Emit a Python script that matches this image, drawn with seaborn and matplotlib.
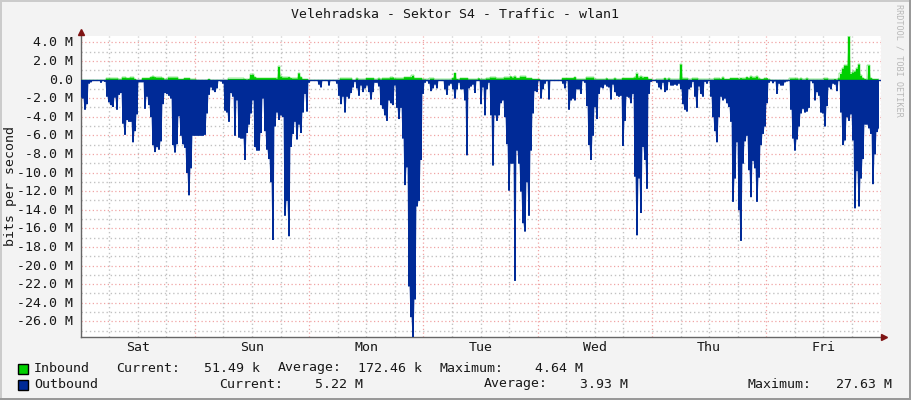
import numpy as np
import pandas as pd
import matplotlib
matplotlib.use("Agg")
import matplotlib.pyplot as plt
from matplotlib.patches import Rectangle
from matplotlib.ticker import FixedLocator
from matplotlib.transforms import ScaledTranslation
import seaborn as sns

TITLE = "Velehradska - Sektor S4 - Traffic - wlan1"
YLABEL = "bits per second"
WATERMARK = "RRDTOOL / TOBI OETIKER"
DAYS = ["Sat", "Sun", "Mon", "Tue", "Wed", "Thu", "Fri"]
Y_TICKS = list(range(-26, 5, 2))

# Outbound traffic (M bits/s, drawn downward), one reading per 25.2 minutes
out_sat = [1.9,2.0,3.2,2.6,0.4,0.25,0.1,0,0,0.05,0.3,0.1,0.2,1.8,2.4,2.7,2.9,1.9,3.2,1.6,
           1.4,4.7,5.9,4.3,4.5,4.5,6.7,5.5,3.7,0.25,0.25,0.25,3.1,1.8,2.7,4.0,7.0,7.75,7.2,7.5,
           6.6,2.6,1.4,1.5,1.7,2.0,7.0,7.8,6.9,3.9,6.0,6.9,7.3,10.0,12.4,9.5,6.0,6.0]
out_sun = [6.0,6.0,6.0,6.0,5.9,3.6,1.6,0.8,1.1,1.3,0.9,0.1,0.15,0.4,3.3,3.5,4.5,1.4,1.8,6.0,
           2.2,6.2,6.3,6.3,8.6,5.7,4.8,3.6,2.2,7.2,7.6,7.6,5.7,2.0,5.5,7.5,8.5,11.0,17.2,5.0,
           3.5,4.3,3.8,4.0,14.6,13.0,16.8,7.2,5.8,4.5,6.4,4.8,5.7,3.5,1.5,3.4,0.3]
out_mon = [0.1,0.1,0.1,0.1,0.5,0.8,0.05,0.05,0.05,0.6,0.1,0.05,0.1,0.4,1.7,2.6,1.8,3.5,1.8,2.0,
           1.4,0.8,0.2,0.9,1.7,0.6,1.3,0.9,0.6,1.3,2.1,1.3,0.3,0.3,0.7,2.7,3.1,3.8,4.4,2.2,
           2.5,2.7,0.6,3.0,4.2,3.0,6.3,11.3,9.4,22.2,25.5,27.63,23.6,13.6,13.0,8.6,1.5,0.3]
out_tue = [0.1,0.4,1.2,0.9,0.5,0.9,0.05,0.05,0.1,1.0,1.6,0.6,0.4,1.0,2.0,1.0,0.3,1.0,1.0,2.2,
           8.1,0.9,0.7,0.5,1.4,0.1,0.05,2.6,0.8,3.8,1.0,0.3,3.8,9.2,3.8,4.4,3.8,2.5,2.2,4.0,
           6.9,11.9,9.0,9.0,21.6,7.6,9.0,12.0,15.4,16.3,11.0,14.6,7.6,3.6,1.2,1.3,0.1]
out_wed = [2.0,1.0,0.4,0.1,2.1,0.05,0.02,0,0,0,0.05,0.4,0.9,0.1,3.2,2.2,2.0,2.2,1.0,1.0,
           1.5,0.1,0.3,2.8,7.0,8.6,6.0,2.9,4.2,1.5,0.8,0.9,0.5,0.7,0.8,2.1,0.5,1.3,1.7,1.8,
           1.7,7.1,4.4,1.8,1.9,2.5,1.5,10.4,16.7,10.6,14.3,7.2,8.6,11.7,1.5,0.2,0.05,0.05]
out_thu = [0.3,0.8,1.0,0.3,1.3,1.1,0.2,0.6,0.6,0.5,0.6,0.4,1.0,2.6,3.2,3.4,1.0,0.8,0.2,1.8,
           3.0,0.7,1.5,1.8,0.2,0.4,0.1,1.8,4.0,5.5,6.7,4.0,1.8,2.2,2.0,2.5,2.9,4.5,13.1,10.6,
           6.7,14.0,17.3,9.0,6.6,6.0,9.7,12.6,8.7,9.5,13.1,10.5,7.0,5.8,5.0,2.5,0.3]
out_fri = [0.1,0.35,0.15,1.5,0.4,0.6,0.6,0.25,0.15,0.1,3.2,6.3,7.6,6.4,5.0,3.6,3.1,3.5,3.4,3.0,
           0.1,0.35,2.2,1.3,1.7,3.5,3.6,5.0,2.8,0.8,1.0,0.4,0.5,1.2,0.1,3.5,7.0,6.5,4.0,4.4,
           3.7,6.5,13.8,9.8,13.6,10.6,8.5,4.8,4.8,5.2,5.8,11.2,8.0,5.6,5.22]

# Inbound traffic (M bits/s), same cadence
in_sat = [0,0,0,0,0,0,0,0,0,0,0,0,0,.15,.15,.15,.15,.15,.15,.05,.05,.25,.25,.2,.2,.25,.25,.1,0,0,0,
          .2,.2,.2,.2,.3,.35,.3,.25,.25,.25,.2,.05,.05,.25,.25,.25,.25,.25,.1,.1,.1,.2,.2,.2,.05,.05,.05]
in_sun = [0,0,0,0,0,0,.1,0,0,0,0,0,0,0,0,0,.12,.12,.12,.12,.12,.12,.12,.12,.1,.05,.1,.55,.55,.3,
          .2,.2,.2,.2,.2,.2,.2,.2,.2,.2,.15,1.4,.35,.25,.25,.25,.3,.2,.15,.15,.15,.7,.3,.1,.1,.1,0]
in_mon = [0,0,0,0,0,0,0,0,0,0,0,0,0,0,0,.15,.15,.15,.15,.15,.15,0,0,.15,.03,.03,.03,.03,.2,.2,.2,.2,
          .03,.03,.15,.05,.17,.17,.17,.17,.25,.25,.15,.15,.15,.15,.15,.3,.3,.3,.3,.45,.2,.2,.2,.2,.05,.05]
in_tue = [.02,.02,.15,.15,.02,.02,.02,.02,.02,.02,.02,.02,.02,.2,.75,.1,.05,.2,.2,.2,.2,.05,.05,.05,.05,.05,
          .15,.05,.05,.05,.15,.15,.25,.25,.25,.15,.15,.15,.15,.25,.25,.25,.35,.25,.35,.2,.2,.35,.35,.35,
          .2,.2,.2,.1,.1,.1,.1]
in_wed = [0,0,0,0,0,0,0,0,0,0,0,.2,.2,.2,.2,.2,.2,.3,.05,.05,.05,.05,.05,.25,.25,.25,.25,.05,.05,.05,.05,.05,.05,
          .15,.05,.05,.05,.17,.05,.05,.05,.2,.2,.2,.2,.2,.2,.25,.65,.25,.35,.25,.32,.32,.1,.1,0,0]
in_thu = [.02,.02,.02,.02,.2,.03,.15,.02,.02,.02,.02,.02,1.65,.15,.15,.15,.02,.02,.15,.15,.15,
          .02,.02,.02,.02,.02,.02,.02,.02,.15,.15,.15,.1,.25,.1,.1,.1,.2,.2,.2,.2,.1,.2,.15,.15,.3,.2,.35,
          .25,.25,.35,.15,.1,.1,.18,.18,.05]
in_fri = [0,0,0,0,0,0,0,0,0,0,.15,.15,.15,.15,.05,.15,.03,.03,.15,.02,.02,.02,.02,.02,.02,.02,.02,.15,.15,
          .03,.03,.03,.1,.03,.18,.65,1.2,1.55,1.55,4.64,.65,.8,.9,1.2,1.65,.45,.2,.1,.05,1.55,.2,.1,.1,.1,.0515]

outbound = np.array(out_sat + out_sun + out_mon + out_tue + out_wed + out_thu + out_fri, dtype=float)
inbound = np.array(in_sat + in_sun + in_mon + in_tue + in_wed + in_thu + in_fri, dtype=float)
assert len(outbound) == 400 and len(inbound) == 400, (len(outbound), len(inbound))
hours = np.arange(400) * 168 / 400

df = pd.DataFrame({"hours": hours, "Inbound": inbound, "Outbound": -outbound})

BG = "#F3F3F3"
GREEN = "#00CF00"
BLUE = "#002A97"
TXT = "#181818"
MONO = "DejaVu Sans Mono"
FS = 9.55

sns.set_theme(style="white", rc={"font.family": MONO, "figure.facecolor": BG, "axes.facecolor": "white"})
W, H = 911, 400
fig = plt.figure(figsize=(W / 100, H / 100), dpi=100, facecolor=BG)
L, R, T, B = 80.5, 880.5, 36.0, 336.5
ax = fig.add_axes([L / W, 1 - B / H, (R - L) / W, (B - T) / H])

# Pale sloped halo, then the solid stepped areas
ax.fill_between(df["hours"], df["Outbound"], 0, color=BLUE, alpha=0.38, lw=0, zorder=2)
ax.fill_between(df["hours"], df["Inbound"], 0, color=GREEN, alpha=0.38, lw=0, zorder=2)
ax.fill_between(df["hours"], df["Outbound"], 0, step="mid", color=BLUE, lw=0, zorder=3)
ax.fill_between(df["hours"], df["Inbound"], 0, step="mid", color=GREEN, lw=0, zorder=3)
sns.lineplot(data=df, x="hours", y="Inbound", drawstyle="steps-mid", color=GREEN, lw=0.3,
             errorbar=None, estimator=None, ax=ax, zorder=3)
ax.axhline(0, color=BLUE, lw=1.0, zorder=4)

ax.set_xlim(0, 168)
ax.set_ylim(-27.63, 4.677)

# Grid
ax.xaxis.set_major_locator(FixedLocator(np.arange(0, 169, 24)))
ax.xaxis.set_minor_locator(FixedLocator([h for h in range(0, 169, 6) if h % 24]))
ax.yaxis.set_major_locator(FixedLocator(Y_TICKS))
ax.yaxis.set_minor_locator(FixedLocator([v for v in range(-27, 5) if v % 2]))
dots = (0, (1, 2))
ax.grid(which="major", color="#F0A4A4", lw=0.9, ls=dots, zorder=1)
ax.grid(which="minor", color="#C2C2C2", lw=1.0, ls=dots, zorder=1)
ax.set_axisbelow(True)
ax.tick_params(axis="y", which="both", length=0, pad=5.5, labelsize=FS, labelcolor=TXT)
ax.tick_params(axis="x", which="major", length=3, width=0.8, color="#F09A9A", labelbottom=False)
ax.tick_params(axis="x", which="minor", length=2, width=0.8, color="#A0A0A0", labelbottom=False)
ax.set_yticklabels(["0.0" if v == 0 else f"{v:.1f} M" for v in Y_TICKS], family=MONO)
shift = ScaledTranslation(0, 1 / 100, fig.dpi_scale_trans)
for lab in ax.get_yticklabels():
    lab.set_transform(lab.get_transform() + shift)
for i, d in enumerate(DAYS):
    ax.annotate(d, xy=(12 + 24 * i, 0), xycoords=("data", "axes fraction"), xytext=(0, -8.2),
                textcoords="offset points", ha="center", va="center", fontsize=FS, color=TXT, family=MONO)
ax.set_xlabel("")
ax.set_ylabel("")

for s in ("top", "right"):
    ax.spines[s].set_visible(False)
for s in ("left", "bottom"):
    ax.spines[s].set_color("#666666")
    ax.spines[s].set_linewidth(1.0)

# Axis arrows
ax.plot([0], [1.012], marker="^", ms=4, color="#7F1414", transform=ax.transAxes, clip_on=False, zorder=6)
ax.plot([1.0045], [0], marker=">", ms=4, color="#7F1414", transform=ax.transAxes, clip_on=False, zorder=6)

def px_text(x, y, s, **kw):
    kw.setdefault("fontsize", FS)
    kw.setdefault("color", TXT)
    kw.setdefault("family", MONO)
    kw.setdefault("va", "center")
    fig.text(x / W, 1 - y / H, s, **kw)

px_text(455, 14, TITLE, ha="center")
px_text(11, 186, YLABEL, rotation=90, ha="center")
px_text(899, 60, WATERMARK, rotation=270, ha="center", fontsize=6.1, color="#B8B8B8")

row1 = [(34, "Inbound"), (116, "Current:"), (204, "51.49 k"), (278, "Average:"), (358, "172.46 k"),
        (440, "Maximum:"), (535, "4.64 M")]
row2 = [(34, "Outbound"), (219, "Current:"), (315, "5.22 M"), (484, "Average:"), (580, "3.93 M"),
        (748, "Maximum:"), (836, "27.63 M")]
for y, row in ((372.5, row1), (388.5, row2)):
    for x, s in row:
        # the 'g' of Average sits about 2 px low with baseline alignment
        px_text(x, y - (2 if "g" in s else 0), s, va="baseline")

for y0, c in ((363.5, GREEN), (379.5, BLUE)):
    fig.add_artist(Rectangle((17.5 / W, 1 - (y0 + 10) / H), 10 / W, 10 / H, transform=fig.transFigure,
                             facecolor=c, edgecolor="black", lw=1))

# Canvas border
for (x, y, w, h, c) in ((0, 0, 2, 400, "#CBCBCB"), (0, 398, 911, 2, "#999999"),
                        (0, 0, 911, 2, "#CBCBCB"), (909, 0, 2, 400, "#999999")):
    fig.add_artist(Rectangle((x / W, 1 - (y + h) / H), w / W, h / H, transform=fig.transFigure,
                             facecolor=c, edgecolor="none"))

fig.savefig("out.png", dpi=100, facecolor=BG)
